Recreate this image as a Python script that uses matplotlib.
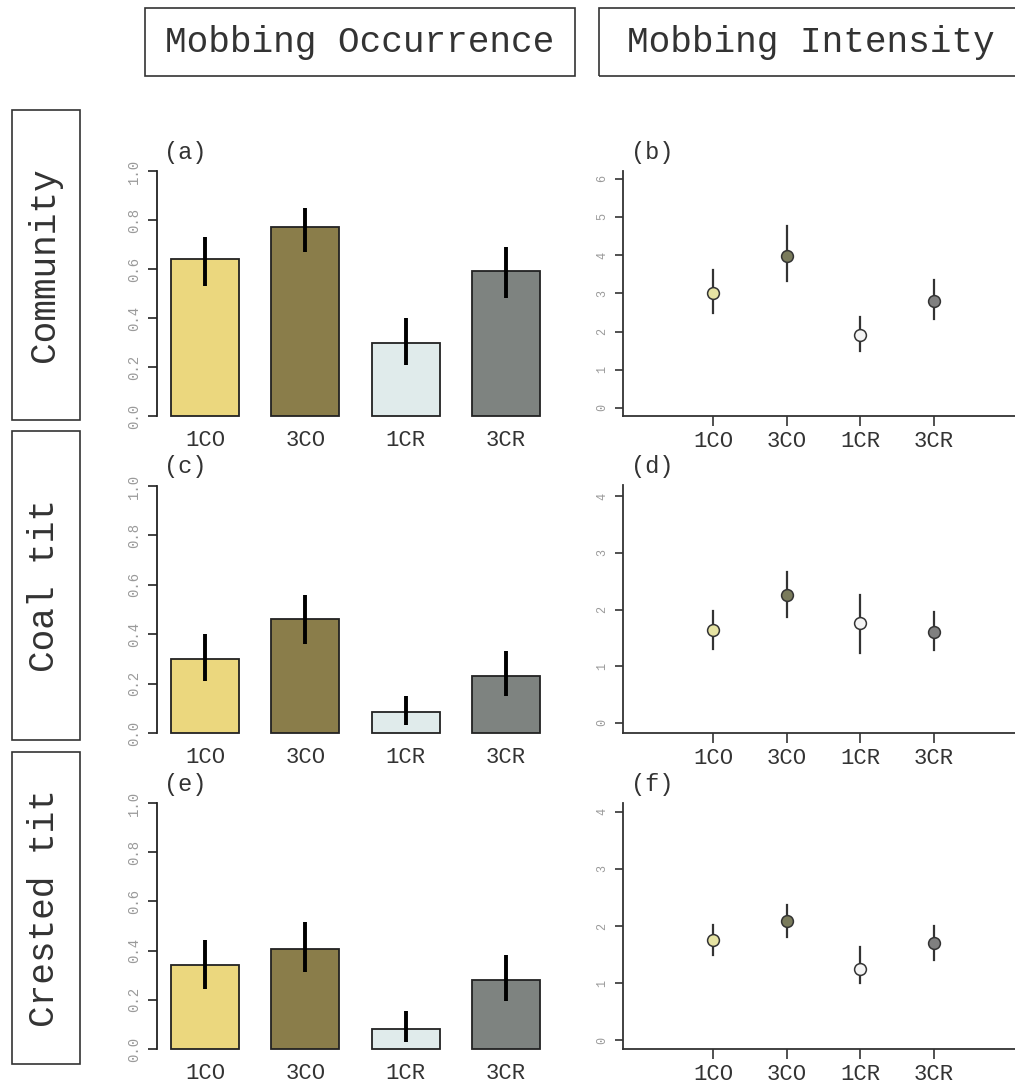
import numpy as np
import matplotlib
matplotlib.use("Agg")
import matplotlib.pyplot as plt
from matplotlib.patches import Rectangle

plt.rcParams['font.family'] = ['Liberation Mono', 'DejaVu Sans Mono']

# ---- data ----
groups = ['1CO', '3CO', '1CR', '3CR']

# mobbing occurrence (proportion), with CI limits
occ_comm = [0.64, 0.77, 0.30, 0.59]
occ_comm_lo = [0.53, 0.67, 0.21, 0.48]
occ_comm_hi = [0.73, 0.85, 0.40, 0.69]

occ_coal = [0.30, 0.46, 0.085, 0.23]
occ_coal_lo = [0.21, 0.36, 0.034, 0.148]
occ_coal_hi = [0.40, 0.56, 0.15, 0.33]

occ_crest = [0.34, 0.405, 0.08, 0.28]
occ_crest_lo = [0.244, 0.313, 0.03, 0.195]
occ_crest_hi = [0.443, 0.516, 0.154, 0.382]

# mobbing intensity, with CI limits
int_comm = [3.01, 3.98, 1.90, 2.79]
int_comm_lo = [2.48, 3.32, 1.50, 2.32]
int_comm_hi = [3.60, 4.75, 2.38, 3.34]

int_coal = [1.64, 2.26, 1.76, 1.61]
int_coal_lo = [1.31, 1.87, 1.24, 1.29]
int_coal_hi = [1.98, 2.66, 2.25, 1.96]

int_crest = [1.75, 2.08, 1.25, 1.70]
int_crest_lo = [1.50, 1.81, 1.00, 1.40]
int_crest_hi = [2.02, 2.36, 1.63, 2.00]

bar_cols = ['#EBD77E', '#8A7D4A', '#E0EBEB', '#7E8380']
pt_cols = ['#E6E3A3', '#7A7B5C', '#F4F4F4', '#808080']

W, H = 1015, 1086
fig = plt.figure(figsize=(W / 100, H / 100), dpi=100)


def rect(l, t, r, b):
    return [l / W, 1 - b / H, (r - l) / W, (b - t) / H]


def fx(x, y):
    return x / W, 1 - y / H


def bar_panel(box, vals, lo, hi, tag):
    ax = fig.add_axes(rect(*box))
    x = np.arange(len(groups))
    ax.bar(x, vals, width=0.68, color=bar_cols, edgecolor='#222222',
           linewidth=1.3, clip_on=False, zorder=2)
    v = np.array(vals)
    err = [v - np.array(lo), np.array(hi) - v]
    ax.errorbar(x, v, yerr=err, fmt='none', ecolor='black', elinewidth=2.8,
                capsize=0, clip_on=False, zorder=3)
    ax.set_xlim(-0.48, 3.5)
    ax.set_ylim(0, 1)
    ax.set_yticks(np.arange(0, 1.01, 0.2))
    ax.set_yticklabels(['%.1f' % t for t in np.arange(0, 1.01, 0.2)])
    ax.set_xticks(x)
    ax.set_xticklabels(groups)
    for s in ['top', 'right', 'bottom']:
        ax.spines[s].set_visible(False)
    ax.spines['left'].set_color('#222222')
    ax.spines['left'].set_linewidth(1.3)
    ax.tick_params(axis='x', length=0, pad=10, labelsize=16, labelcolor='#333333')
    ax.tick_params(axis='y', length=6.5, width=1.2, color='#222222', pad=5,
                   labelsize=10, labelcolor='#9a9a9a', labelrotation=90)
    for t in ax.get_yticklabels():
        t.set_va('center')
    ax.patch.set_alpha(0)
    fig.text(*fx(box[0] + 28, box[1] - 19), tag, fontsize=17, ha='center',
             va='center', color='#333333')
    return ax


def point_panel(box, vals, lo, hi, ylim, yticks, tag):
    ax = fig.add_axes(rect(*box))
    x = np.arange(1, len(groups) + 1)
    for i in range(len(groups)):
        ax.plot([x[i], x[i]], [lo[i], hi[i]], color='#333333', lw=1.6, zorder=2)
        ax.plot(x[i], vals[i], 'o', ms=8.5, mfc=pt_cols[i], mec='#333333',
                mew=1.1, zorder=3)
    ax.set_xlim(1 - 90 / 73.7, 1 + (1040 - 713) / 73.7)
    ax.set_ylim(*ylim)
    ax.set_xticks(x)
    ax.set_xticklabels(groups)
    ax.set_yticks(yticks)
    ax.set_yticklabels([str(t) for t in yticks])
    for s in ['top', 'right']:
        ax.spines[s].set_visible(False)
    for s in ['left', 'bottom']:
        ax.spines[s].set_color('#333333')
        ax.spines[s].set_linewidth(1.3)
    ax.tick_params(axis='x', length=7, width=1.2, color='#333333', pad=4,
                   labelsize=16, labelcolor='#333333')
    ax.tick_params(axis='y', length=5.5, width=1.2, color='#333333', pad=5,
                   labelsize=8.5, labelcolor='#9a9a9a', labelrotation=90)
    for t in ax.get_yticklabels():
        t.set_va('center')
    ax.patch.set_alpha(0)
    fig.text(*fx(box[0] + 29, box[1] - 19), tag, fontsize=17, ha='center',
             va='center', color='#333333')
    return ax


bar_panel((157, 171, 556, 416), occ_comm, occ_comm_lo, occ_comm_hi, '(a)')
bar_panel((157, 486, 556, 733), occ_coal, occ_coal_lo, occ_coal_hi, '(c)')
bar_panel((157, 803, 556, 1049), occ_crest, occ_crest_lo, occ_crest_hi, '(e)')

point_panel((623, 171, 1040, 416), int_comm, int_comm_lo, int_comm_hi,
            (-0.21, 6.2), [0, 1, 2, 3, 4, 5, 6], '(b)')
point_panel((623, 485, 1040, 733), int_coal, int_coal_lo, int_coal_hi,
            (-0.18, 4.2), [0, 1, 2, 3, 4], '(d)')
point_panel((623, 803, 1040, 1049), int_crest, int_crest_lo, int_crest_hi,
            (-0.15, 4.15), [0, 1, 2, 3, 4], '(f)')

# header boxes
for (l, r, txt, cx) in [(145, 575, 'Mobbing Occurrence', 360),
                        (599, 1040, 'Mobbing Intensity', 811)]:
    fig.patches.append(Rectangle(fx(l, 76), (r - l) / W, 68 / H, fill=False,
                                 edgecolor='#333333', lw=1.2,
                                 transform=fig.transFigure))
    fig.text(*fx(cx, 43), txt, fontsize=26, ha='center', va='center',
             color='#333333')

# row label boxes
for (t, b, txt) in [(110, 420, 'Community'), (431, 740, 'Coal tit'),
                    (752, 1064, 'Crested tit')]:
    fig.patches.append(Rectangle(fx(12, b), 68 / W, (b - t) / H, fill=False,
                                 edgecolor='#333333', lw=1.2,
                                 transform=fig.transFigure))
    fig.text(*fx(45, (t + b) / 2), txt, fontsize=26, ha='center', va='center',
             rotation=90, color='#333333')

fig.savefig('out.png', dpi=100)
